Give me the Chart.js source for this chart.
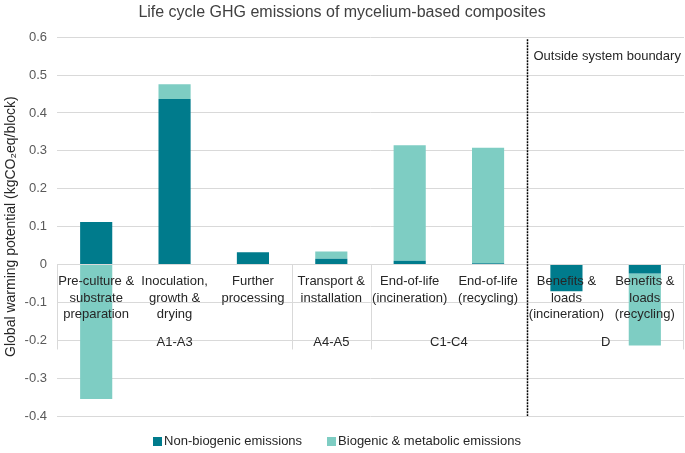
<!DOCTYPE html>
<html>
<head>
<meta charset="utf-8">
<script src="https://cdn.jsdelivr.net/npm/chart.js@4"></script>
<style>
  html, body { margin: 0; padding: 0; background: #fff; }
  #wrap { width: 685px; height: 453px; }
</style>
</head>
<body>
<div id="wrap"><canvas id="gwp-chart"></canvas></div>
<script>
const categories = [
  ['Pre-culture &', 'substrate', 'preparation'],
  ['Inoculation,', 'growth &', 'drying'],
  ['Further', 'processing'],
  ['Transport &', 'installation'],
  ['End-of-life', '(incineration)'],
  ['End-of-life', '(recycling)'],
  ['Benefits &', 'loads', '(incineration)'],
  ['Benefits &', 'loads', '(recycling)']
];
const nonBiogenic = [0.112, 0.437, 0.032, 0.015, 0.010, 0.003, -0.071, -0.024];
const biogenic = [-0.355, 0.039, 0, 0.019, 0.305, 0.305, 0, -0.190];
const stageNames = ['A1-A3', 'A4-A5', 'C1-C4', 'D'];
const stageFirst = [0, 3, 4, 6];
const stageLast = [2, 3, 5, 7];

const FONT = 'Liberation Sans';
const darkTeal = '#007B8C';
const lightTeal = '#7ECDC3';
const gridGrey = '#d9d9d9';
const textColor = '#262626';

// category + stage labels are drawn after the bars, like in the original
const stagePlugin = {
  id: 'stages',
  afterDatasetsDraw(chart) {
    const {ctx, scales: {x, y}, chartArea} = chart;
    const y0 = y.getPixelForValue(0);
    const half = (x.getPixelForValue(1) - x.getPixelForValue(0)) / 2;
    ctx.save();
    ctx.strokeStyle = gridGrey;
    ctx.lineWidth = 1;
    stageFirst.forEach((f, i) => {
      if (i === 3) return;
      const px = Math.round(x.getPixelForValue(f) - half) + 0.5;
      ctx.beginPath();
      ctx.moveTo(px, y0);
      ctx.lineTo(px, y0 + 85);
      ctx.stroke();
    });
    const rx = Math.round(x.getPixelForValue(7) + half) - 0.5;
    ctx.beginPath();
    ctx.moveTo(rx, y0);
    ctx.lineTo(rx, y0 + 85);
    ctx.stroke();

    ctx.fillStyle = textColor;
    ctx.font = '13px "' + FONT + '"';
    ctx.textAlign = 'center';
    ctx.textBaseline = 'middle';
    chart.data.labels.forEach((lines, i) => {
      const cx = x.getPixelForValue(i);
      lines.forEach((t, j) => ctx.fillText(t, cx, y0 + 17 + j * 16.5));
    });
    stageNames.forEach((name, i) => {
      const cx = (x.getPixelForValue(stageFirst[i]) + x.getPixelForValue(stageLast[i])) / 2;
      ctx.fillText(name, cx, y0 + 78);
    });

    const bx = Math.round(x.getPixelForValue(6) - half) + 0.5;
    ctx.strokeStyle = '#000';
    ctx.lineWidth = 1.5;
    ctx.setLineDash([2, 1]);
    ctx.beginPath();
    ctx.moveTo(bx, chartArea.top + 2);
    ctx.lineTo(bx, chartArea.bottom);
    ctx.stroke();
    ctx.setLineDash([]);
    ctx.textAlign = 'left';
    ctx.fillText('Outside system boundary', bx + 6, chartArea.top + 19);
    ctx.restore();
  },
  afterDraw(chart) {
    const {ctx, chartArea} = chart;
    const sets = chart.data.datasets;
    ctx.save();
    ctx.font = '13px "' + FONT + '"';
    ctx.textBaseline = 'middle';
    const widths = sets.map((d) => 11 + ctx.measureText(d.label).width);
    const gap = 25;
    const total = widths.reduce((a, b) => a + b, 0) + gap * (sets.length - 1);
    let cx = 337 - total / 2;
    const cy = chartArea.bottom + 25;
    sets.forEach((d, i) => {
      ctx.fillStyle = d.backgroundColor;
      ctx.fillRect(Math.round(cx), Math.round(cy - 4), 9, 9);
      ctx.fillStyle = textColor;
      ctx.fillText(d.label, cx + 11, cy + 0.5);
      cx += widths[i] + gap;
    });
    ctx.restore();
  }
};

new Chart(document.getElementById('gwp-chart'), {
  type: 'bar',
  data: {
    labels: categories,
    datasets: [
      {
        label: 'Non-biogenic emissions',
        data: nonBiogenic,
        backgroundColor: darkTeal,
      },
      {
        label: 'Biogenic & metabolic emissions',
        data: biogenic,
        backgroundColor: lightTeal,
      }
    ],
  },
  options: {
    responsive: true,
    maintainAspectRatio: false,
    animation: false,
    devicePixelRatio: 1,
    layout: {
      padding: {left: 0, right: 1, top: 0, bottom: 37},
    },
    datasets: {
      bar: {
        categoryPercentage: 1,
        barPercentage: 0.41,
      },
    },
    scales: {
      x: {
        stacked: true,
        position: {y: 0},
        grid: {
          display: false,
        },
        border: {
          color: gridGrey,
        },
        ticks: {
          display: false,
        },
      },
      y: {
        stacked: true,
        min: -0.4,
        max: 0.6,
        afterFit: (scale) => { scale.width = 57; },
        ticks: {
          stepSize: 0.1,
          color: '#595959',
          padding: 10,
          font: {family: FONT, size: 13},
          callback: (v) => (Math.abs(v) < 1e-9 ? '0' : v.toFixed(1)),
        },
        grid: {
          color: gridGrey,
          drawTicks: false,
        },
        border: {
          display: false,
        },
        title: {
          display: true,
          text: 'Global warming potential (kgCO₂eq/block)',
          color: textColor,
          padding: {top: 3, bottom: 0},
          font: {family: FONT, size: 14},
        },
      },
    },
    plugins: {
      title: {
        display: true,
        text: 'Life cycle GHG emissions of mycelium-based composites',
        color: '#404040',
        padding: {top: 3, bottom: 15},
        font: {family: FONT, size: 16, weight: 'normal'},
      },
      legend: {display: false},
      tooltip: {enabled: false},
    },
  },
  plugins: [stagePlugin],
});
</script>
</body>
</html>
